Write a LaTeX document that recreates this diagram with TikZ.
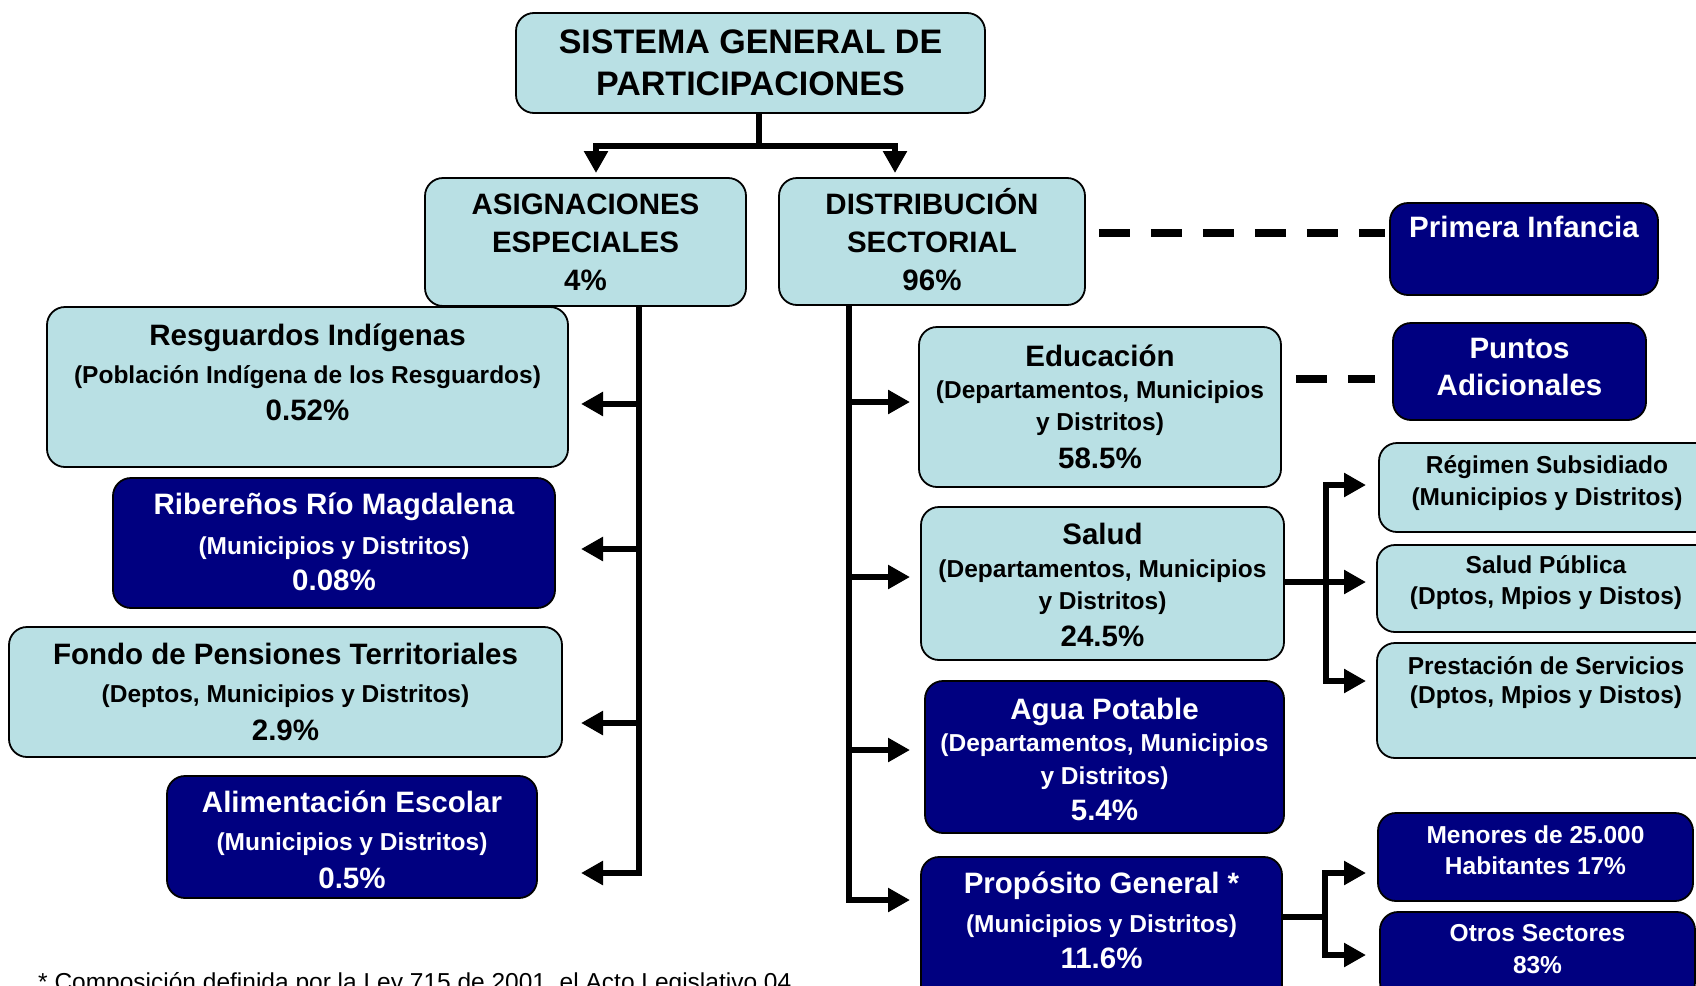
\documentclass[tikz,border=0pt]{standalone}
\usepackage{fontspec}
\setmainfont{Liberation Sans}
\usetikzlibrary{positioning,arrows.meta}

\definecolor{sgplight}{RGB}{185,224,228}
\definecolor{sgpnavy}{RGB}{0,0,128}

\newcommand{\subln}[1]{{\fontsize{24.5}{24.5}\selectfont #1}}

\tikzset{
  lightbox/.style={draw=black, line width=1.8pt, rounded corners=18pt, fill=sgplight},
  darkbox/.style={draw=black, line width=1.8pt, rounded corners=18pt, fill=sgpnavy},
  boxtext/.style={inner sep=0pt, align=center},
  headlines/.style={font=\fontsize{29.5}{#1}\selectfont\bfseries},
  sublines/.style={font=\fontsize{24.5}{#1}\selectfont\bfseries},
  conn/.style={line width=6pt},
  arrow/.style={line width=6pt, -{Triangle[length=22pt,width=23pt]}},
  twoarrow/.style={line width=6pt, {Triangle[length=22pt,width=23pt]}-{Triangle[length=22pt,width=23pt]}},
  dashline/.style={line width=8pt, dash pattern=on 31pt off 21pt},
}

\begin{document}
\begin{tikzpicture}[x=1pt,y=-1pt]
\useasboundingbox (0,0) rectangle (1696,985);
\clip (0,0) rectangle (1696,985);

% title
\node[lightbox, minimum width=469pt, minimum height=100pt] (sgp) at (750.5,63) {};
\node[boxtext, font=\fontsize{34}{42}\selectfont\bfseries, below=17.5pt of sgp.north] (sgptxt) {SISTEMA GENERAL DE\\PARTICIPACIONES};

% asignaciones / distribucion
\node[lightbox, minimum width=321pt, minimum height=128pt] (asig) at (585.5,242) {};
\node[boxtext, headlines=38, below=16.5pt of asig.north] (asigtxt) {ASIGNACIONES\\ESPECIALES\\4\%};
\node[lightbox, minimum width=306pt, minimum height=127pt] (dist) at (932,241.5) {};
\node[boxtext, headlines=38, below=11.5pt of dist.north] (disttxt) {DISTRIBUCIÓN\\SECTORIAL\\96\%};

\node[darkbox, minimum width=268pt, minimum height=92pt] (prim) at (1524,249) {};
\node[boxtext, headlines=37, text=white, below=14pt of prim.north] (primtxt) {Primera Infancia};

% left column %%%%%%%%%%%%%%%%%%%%%%%%%%%%%%%%%%%%%%%%%%%%%%%%%%%%
\node[lightbox, minimum width=521pt, minimum height=160pt] (resg) at (307.5,387) {};
\node[boxtext, headlines=37.5, below=18pt of resg.north] (resgtxt) {Resguardos Indígenas\\\subln{(Población Indígena de los Resguardos)}\\0.52\%};

\node[darkbox, minimum width=442pt, minimum height=130pt] (rib) at (334,543) {};
\node[boxtext, headlines=37.5, text=white, below=16pt of rib.north] (ribtxt) {Ribereños Río Magdalena\\[2pt]\subln{(Municipios y Distritos)}\\[-1pt]0.08\%};

\node[lightbox, minimum width=553pt, minimum height=130pt] (fondo) at (285.5,692) {};
\node[boxtext, headlines=38, below=17pt of fondo.north] (fondotxt) {Fondo de Pensiones Territoriales\\\subln{(Deptos, Municipios y Distritos)}\\2.9\%};

\node[darkbox, minimum width=370pt, minimum height=122pt] (alim) at (352,837) {};
\node[boxtext, headlines=38, text=white, below=16pt of alim.north] (alimtxt) {Alimentación Escolar\\\subln{(Municipios y Distritos)}\\0.5\%};

% sectors %%%%%%%%%%%%%%%%%%%%%%%%%%%%%%%%%%%%%%%%%%%%%%%%%%%%%%%%
\node[lightbox, minimum width=362pt, minimum height=160pt] (educ) at (1100,407) {};
\node[boxtext, headlines=32, below=18.5pt of educ.north] (eductxt) {Educación\\\subln{(Departamentos, Municipios}\\\subln{y Distritos)}\\[6pt]58.5\%};

\node[darkbox, minimum width=253pt, minimum height=97pt] (punt) at (1519.5,371.5) {};
\node[boxtext, headlines=37, text=white, below=16pt of punt.north] (punttxt) {Puntos\\Adicionales};

\node[lightbox, minimum width=363pt, minimum height=153pt] (salud) at (1102.5,583.5) {};
\node[boxtext, headlines=32.5, below=17pt of salud.north] (saludtxt) {Salud\\\subln{(Departamentos, Municipios}\\\subln{y Distritos)}\\[4.5pt]24.5\%};

\node[darkbox, minimum width=359pt, minimum height=152pt] (agua) at (1104.5,757) {};
\node[boxtext, headlines=32.5, text=white, below=17.5pt of agua.north] (aguatxt) {Agua Potable\\\subln{(Departamentos, Municipios}\\\subln{y Distritos)}\\[3.5pt]5.4\%};

\node[darkbox, minimum width=361pt, minimum height=155pt] (prop) at (1101.5,934.5) {};
\node[boxtext, headlines=37, text=white, below=16pt of prop.north] (proptxt) {Propósito General *\\[2pt]\subln{(Municipios y Distritos)}\\[-1pt]11.6\%};

% salud / proposito general parts
\node[lightbox, minimum width=336pt, minimum height=89pt] (regs) at (1547,487.5) {};
\node[boxtext, sublines=32, below=13pt of regs.north] (regstxt) {Régimen Subsidiado\\(Municipios y Distritos)};
\node[lightbox, minimum width=338pt, minimum height=87pt] (salp) at (1546,588.5) {};
\node[boxtext, sublines=31, below=11pt of salp.north] (salptxt) {Salud Pública\\(Dptos, Mpios y Distos)};
\node[lightbox, minimum width=338pt, minimum height=115pt] (prest) at (1546,700.5) {};
\node[boxtext, sublines=29, below=14pt of prest.north] (presttxt) {Prestación de Servicios\\(Dptos, Mpios y Distos)};

\node[darkbox, minimum width=315pt, minimum height=88pt] (men) at (1535.5,857) {};
\node[boxtext, sublines=31, text=white, below=13pt of men.north] (mentxt) {Menores de 25.000\\Habitantes 17\%};
\node[darkbox, minimum width=315pt, minimum height=88pt] (otros) at (1537.5,956) {};
\node[boxtext, sublines=32, text=white, below=13pt of otros.north] (otrostxt) {Otros Sectores\\83\%};

% connectors %%%%%%%%%%%%%%%%%%%%%%%%%%%%%%%%%%%%%%%%%%%%%%%%%%%%%
\coordinate (split) at (759,146);
\coordinate (asigin) at (596,173);
\coordinate (distin) at (895,173);
\draw[conn] (sgp.south -| split) -- (split);
\draw[twoarrow] (asigin) |- (split) -| (distin);

\coordinate (ltop) at (639,306);
\coordinate (resgin) at (581,404);
\coordinate (ribin) at (581,549);
\coordinate (fondoin) at (581,723);
\coordinate (alimin) at (581,873);
\draw[arrow] (ltop) |- (alimin);
\draw[arrow] (ltop |- resgin) -- (resgin);
\draw[arrow] (ltop |- ribin) -- (ribin);
\draw[arrow] (ltop |- fondoin) -- (fondoin);

\coordinate (rtop) at (849,306);
\coordinate (educin) at (910,402);
\coordinate (saludin) at (910,577);
\coordinate (aguain) at (910,750);
\coordinate (propin) at (910,900);
\draw[arrow] (rtop) |- (propin);
\draw[arrow] (rtop |- educin) -- (educin);
\draw[arrow] (rtop |- saludin) -- (saludin);
\draw[arrow] (rtop |- aguain) -- (aguain);

\coordinate (sbr) at (1326,582);
\coordinate (regsin) at (1366,485);
\coordinate (salpin) at (1366,582);
\coordinate (prestin) at (1366,681);
\draw[arrow] (salud.east |- salpin) -- (salpin);
\draw[twoarrow] (regsin) -| (sbr) |- (prestin);

\coordinate (pbr) at (1325,917);
\coordinate (menin) at (1366,873);
\coordinate (otrosin) at (1366,955);
\draw[conn] (prop.east |- pbr) -- (pbr);
\draw[twoarrow] (menin) -| (pbr) |- (otrosin);

% dashed links
\draw[dashline] ([shift={(13,-8.5)}]dist.east) -- ([shift={(-4,-16)}]prim.west);
\draw[dashline] ([shift={(14,-28)}]educ.east) -- ([shift={(-17,7.5)}]punt.west);

\node[anchor=base west, inner sep=0pt, font=\fontsize{24.5}{30}\selectfont] (note) at (38,990) {* Composición definida por la Ley 715 de 2001, el Acto Legislativo 04};

\end{tikzpicture}
\end{document}
